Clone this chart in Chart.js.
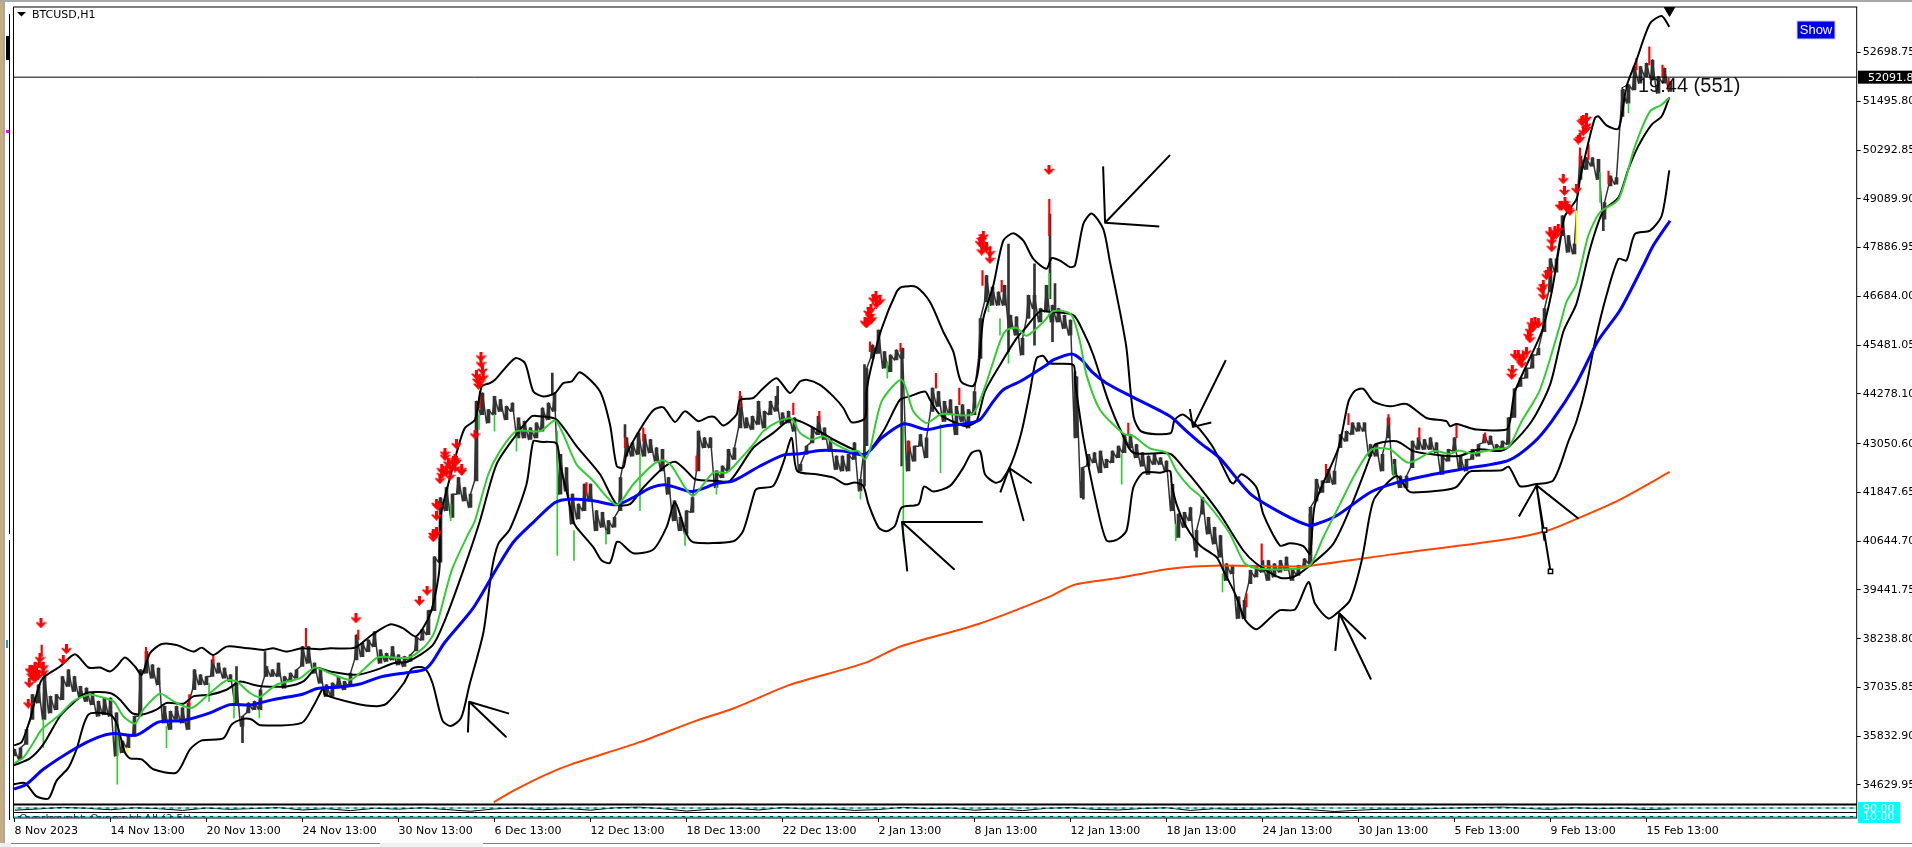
<!DOCTYPE html>
<html>
<head>
<meta charset="utf-8">
<title>BTCUSD,H1</title>
<script src="https://cdn.jsdelivr.net/npm/chart.js@4/dist/chart.umd.min.js"></script>
<style>
  html, body { margin: 0; padding: 0; background: #fff; overflow: hidden; }
  canvas { display: block; }
</style>
</head>
<body>
<canvas id="btcChart" width="1912" height="847"></canvas>
<script>
// x axis is counted in H1 bars from the first bar on the chart
const symbolName = 'BTCUSD,H1';
const timerText = '19:44 (551)';
const currentPrice = 52091.80;
const priceTicks = [52698.75, 51495.80, 50292.85, 49089.90, 47886.95, 46684.00, 45481.05, 44278.10,
  43050.60, 41847.65, 40644.70, 39441.75, 38238.80, 37035.85, 35832.90, 34629.95];
const dateLabels = ['8 Nov 2023', '14 Nov 13:00', '20 Nov 13:00', '24 Nov 13:00', '30 Nov 13:00', '6 Dec 13:00',
  '12 Dec 13:00', '18 Dec 13:00', '22 Dec 13:00', '2 Jan 13:00', '8 Jan 13:00', '12 Jan 13:00',
  '18 Jan 13:00', '24 Jan 13:00', '30 Jan 13:00', '5 Feb 13:00', '9 Feb 13:00', '15 Feb 13:00'];
const barsPerLabel = 48;

// candle ranges, one every candleStep bars
const candleStep = 3;
const candleHigh = [
  35508,35549,35999,36857,37103,37389,36816,36857,37307,37471,
  37307,37062,37021,36898,36694,36775,36775,36408,35712,35835,
  36326,37471,37920,37594,37512,36571,36448,36571,36530,36653,
  37471,37348,37307,37716,37634,37512,37348,37184,36326,36653,
  36694,36980,37552,37471,37634,37307,37389,37471,38043,38043,
  37634,37471,37103,37144,37307,37184,37389,38329,38125,38207,
  38411,37961,37879,38043,37839,37798,37839,38270,38470,38933,
  40258,41716,41968,41804,42213,41968,41804,44094,44298,43889,
  44216,44135,43971,44053,43685,43603,43440,43562,43930,44053,
  44298,42785,42458,41804,41559,42050,42050,41395,41354,41150,
  41232,42213,43194,43072,43317,43276,43153,42949,42908,42213,
  41641,41232,41395,41722,43358,43194,43194,42377,42499,42908,
  42949,44217,43685,43726,44094,43849,44094,44217,43808,43849,
  43685,42539,42989,43439,43725,43439,43153,42744,42744,42785,
  43071,42171,44900,45483,45851,45320,45238,45361,45402,43112,
  42989,43275,43193,44420,44338,44093,44134,43970,44011,43889,
  44338,46137,47200,46914,46792,46955,46219,46178,45647,46710,
  46710,46383,46955,46465,46383,46219,46097,44700,42458,42785,
  42826,42866,42662,42866,42989,43275,43275,43030,42826,42744,
  42785,42703,42621,42049,41313,41354,41476,40904,41722,41231,
  40986,40782,40087,40046,39269,39187,39923,40005,40168,40168,
  40087,40168,40250,39964,40046,40209,41477,42172,42131,42417,
  42376,43276,43357,43562,43562,43562,43030,43030,42785,43685,
  42662,42253,42253,43112,43194,43153,43194,43071,42744,42908,
  43194,42744,42662,42908,43030,43276,43235,43030,43112,43685,
  44400,44666,44911,45238,45402,46383,47610,47610,48673,48182,
  47978,50144,50104,50104,50063,48999,49654,49613,51780,51903,
  52352,52352,52434,52516,52107,52311,51984];
const candleLow = [
  35345,35263,35631,36244,36653,36244,36408,36489,36735,37062,
  36939,36816,36694,36612,36326,36367,36326,35345,35426,35549,
  35835,36326,37389,37266,37103,36162,35999,36244,36162,35999,
  36980,37103,37103,37307,37389,37266,37184,36653,36080,36408,
  36489,36489,37307,37307,37307,37021,37184,37266,37552,37634,
  37389,37144,36816,36816,37062,36980,37062,37716,37798,37920,
  38043,37634,37675,37716,37593,37552,37675,37940,38204,38337,
  38933,40126,41395,41232,41804,41640,41477,42131,43767,43562,
  43767,43848,43644,43848,43194,43194,43153,43194,43358,43644,
  43849,41804,41886,41068,41191,41395,41641,40905,40987,40823,
  40987,41395,42744,42744,42785,42744,42826,42622,42377,41804,
  41150,40905,40823,41354,42377,42949,42949,41968,42213,42377,
  42663,43440,43440,43399,43522,43440,43767,43849,43522,43562,
  43358,42376,42785,43071,43275,43153,42866,42417,42376,42376,
  42662,41885,43000,45156,45279,44911,44829,45115,45156,42376,
  42621,42989,42703,43848,43970,43602,43766,43275,43602,43439,
  43766,45156,46546,46465,46465,46465,45892,45729,45238,46137,
  46383,46056,46301,46056,46056,45892,45729,43200,41720,42498,
  42580,42335,42458,42580,42703,42826,42948,42703,42498,42294,
  42539,42539,42376,41394,40740,40986,41149,40413,41313,40822,
  40577,40250,39678,39841,38737,38737,39596,39760,39882,39678,
  39760,39882,39923,39678,39800,40005,40087,41640,41845,42090,
  42049,42949,43112,43276,43357,43357,42744,42744,42376,43194,
  42294,41967,41967,42458,42908,42908,42908,42826,42294,42621,
  42867,42417,42376,42662,42744,43071,43030,42867,42949,43030,
  43700,44461,44666,44911,45238,45811,46792,47282,48182,47773,
  47733,49572,49818,49899,49572,48591,49409,49450,51126,51453,
  51780,51944,52107,52025,51698,51944,51739];

// long thin wicks
const darkWickBars = [111,114,125.25,268.9,305.25,381.6,425,443.6,497,510,517.75,520.25,519,530.25,534.4,591,647.75,794.4];
const darkWickHigh = [37552,36244,37920,44789,43521,44462,45000,45400,47977,47487,48713,47000,46056,44829,42376,40904,41313,48591];
const darkWickLow = [36898,35672,37307,44257,43194,44012,42000,42500,45320,45483,46628,46301,45565,43193,41681,40250,40087,48305];
const redWickBars = [13.6,65.75,145.75,171.9,99.4,87.4,232.75,314.4,362.75,305.25,286,341,389.4,517.4,460.75,484,493.6,427.75,443,447,402.4,472.4,556.9,623.6,655.75,667,687,702.4,721,735.25,616,811,817.4,824,827,782.75,787,797];
const redWickHigh = [38084,38027,38493,38452,37814,36857,44339,43440,44339,43194,42090,42744,44053,49081,44788,47323,47078,45565,45524,43112,43848,44420,43561,40577,42540,43791,43766,43439,43521,43317,39351,52557,52843,52393,52066,50349,50431,49777];
const redWickLow = [37800,37716,38043,38207,37634,36571,43930,43113,43930,42949,41804,42377,43767,48182,44420,46955,46792,45320,45320,42866,43602,44011,43275,40168,42212,43521,43521,43153,43194,43112,39024,52270,52393,52107,51780,49899,50063,49450];
const greenWickBars = [51.4,14.4,76,97.25,109.75,122.4,271.4,279.75,240,232.25,251,312.75,335.25,351,218.1,295.75,492.75,497,517.4,487,436.4,444.4,463,553.6,580.6,423,604,689.4,792.75,807];
const greenWickHigh = [36162,36244,36080,37144,37062,36489,43358,40905,43767,43767,43276,42785,40987,42090,41559,40905,46137,45320,47250,46630,45074,43600,43520,42785,41067,41885,39841,42540,49736,51453];
const greenWickLow = [34650,35549,35549,36694,36285,36285,40291,40169,43358,43399,42867,41395,40537,41804,41150,40577,45729,45034,46628,46300,44666,40650,42335,42049,40658,41681,39391,42253,48999,51208];
const yellowWickBars = [56.4,781];
const yellowWickHigh = [35549,48795];
const yellowWickLow = [35426,47978];

// black outer and middle bands
const upperBars = [-0.25,3.6,7.75,13.6,22.75,30.25,37,42.75,47.75,51,55.25,60.25,63.6,67.75,73.6,81,89.5,93.6,99.4,106,114.4,124.4,129.4,136,143.6,152,157.75,170.25,178.6,187.75,194.4,200.8,208,212.4,213,217.75,222.75,225.25,230.25,233.6,237.75,240.25,250.25,255.25,259.4,264.4,270.25,274.4,278.6,282.75,292.75,297.75,301.1,304.4,306,312.75,319.4,324.4,330.25,335.25,342,347,350.25,354.4,361,362.75,369.4,373.6,381,387.75,392.75,396,402.75,409.4,414.4,418.6,425.25,426,428.6,433.6,441,443.6,451,457.75,464.4,469.4,473.25,479.4,482,484.4,489.4,494.4,499.4,504.4,509.4,516,518.6,522.75,527.75,530.25,534.4,538.6,544.4,547.75,552.75,556,559.6,563.7,578,580,584,588,592.75,599.4,607.75,609.4,613.6,621,624.4,632.75,637.75,644.4,647.75,650.25,662,667,670.25,674.4,679.4,687.75,696,706,716,717.75,721,731,746,747.75,750.25,763.6,768.6,772.75,775.25,781,782.75,786.9,790.25,792,796,802,806,811,817.75,823.6,827.4];
const upperBand = [35606,35688,36244,37225,37552,37855,37528,37528,37430,37552,37773,37552,37348,37879,38108,38084,37920,38018,37838,38043,38018,37961,38002,37920,38002,37978,38002,38018,38329,38591,38493,38297,38867,39924,41232,42213,43113,43440,43644,44462,44544,44625,45157,45034,44339,44216,44298,44544,44584,44813,44339,43521,42499,42458,42785,43399,43873,43947,43587,43849,43603,43709,43701,43497,43767,44135,44176,44380,44666,44298,44584,44625,44502,44216,43930,43578,43684,44339,44993,45892,46792,46914,46914,46546,45810,45320,44584,44477,44911,46137,46955,48059,48239,48059,47609,47364,47626,47568,47405,47446,48468,48730,48345,47528,46301,45402,43703,43345,43306,43637,43770,43637,43398,42949,42131,42066,42294,41967,41313,40536,40594,40520,40332,41558,42949,44093,44355,44404,44093,43971,44028,43684,43603,43480,43537,43398,43398,43603,44339,45811,46792,48019,48673,49081,49572,50472,51085,51126,50905,50823,51862,52516,53415,53603,53334];

const middleBars = [-0.25,7.75,14.4,22.75,29.4,36,47.75,52.75,58.6,63.6,71,76,84.4,89.4,97.75,106,112.75,119.4,124.4,136,144.4,151,157.75,171,181,189.4,196.75,209,215,224.4,232.75,241,251,258.6,262.75,271,281,292.75,301,307.75,314.4,324.4,330.25,336,340.25,351,357.75,369.4,379.4,387.75,392.75,401,409.4,419.4,425.25,434.4,442.75,447.75,455.25,457.75,462.75,472.75,476,481,485.25,492.75,501,506,512.75,517.75,529.4,534.4,539.4,547,553.6,559.4,577.75,584.4,592.75,602.75,614.4,621,632.75,639.4,647.75,659.4,669.4,678.6,680.25,691,699.4,709.4,722,731.9,742.75,747,758.6,767.75,774.4,781,787.75,794.4,802,806.9,811.9,818.6,823.6,827.4];
const middleBand = [35116,35287,35631,36326,36653,36898,36898,36735,36408,36367,36489,36653,36636,36816,36857,36980,37184,37103,37062,37062,37184,37512,37430,37348,37471,37634,37675,38072,38668,39924,41150,42540,43276,43726,43726,43644,42990,42295,41559,41559,41968,42458,42606,42377,42172,42131,42131,42949,43317,43644,43602,43398,43153,42907,42785,43357,44134,44216,44338,44134,43766,43520,43480,43602,44339,44993,45647,45933,46317,46301,46219,45810,45238,44093,43316,42826,42801,42458,41967,41313,40414,40087,39743,39760,40046,40577,41640,42826,43030,43112,42867,42785,42744,42908,42867,42965,43603,44502,45811,46506,47855,48795,49122,49817,50390,50921,51126,51592];

const lowerBars = [-0.25,5.25,11,17,21,27,31,37,47.75,51,55.25,57.75,63.6,69.4,81,87.75,93.6,104.4,108.6,114.4,118.6,122.75,143.6,149.4,154.4,155.25,169.4,181,186,194.7,198.8,204.9,209,214,218.2,223.3,227.4,234.5,238.6,241.9,247.75,256,259.4,262.75,271,272.75,276,279.4,281,289.4,293.6,297.75,301,302.75,309.4,319.4,326,330.25,336,339.4,359.4,364.4,370.25,372,379.4,384.4,388.6,391.3,401,409.4,415.25,420.25,424.4,427,432,436,440.25,443.6,452,454.75,459.4,467.75,474.4,478.6,482.75,485.25,490.25,493.6,498.6,503.6,507.75,511,514.4,517.4,529.4,530.25,534.4,541,546,551,556,559.4,564.4,572.75,577.75,578.6,581,586,592.75,601,604.4,610.25,615.25,620.8,627,632.75,640.25,647,650.25,657,662,667.75,673.6,677.75,680.25,691,696.9,699.4,714.4,721,726,728.6,743.6,747,750.25,752.75,760.25,769.4,777,781,786,790.25,796,802,806,810.25,817.75,823.6,827.4];
const lowerBand = [34650,34674,34347,34298,34731,35058,35508,36367,36367,36162,35426,35287,35263,35018,34936,35508,35729,35778,36121,36260,36244,36105,36162,36571,37021,36857,36653,36571,36637,37145,37503,37516,37145,36217,36085,36284,37079,38404,39924,40578,40946,42050,43113,43096,43055,42540,41886,41150,40987,40496,40169,40112,40618,40618,40349,40439,40987,41600,40823,40618,40643,40905,41886,41951,42009,42581,43194,42378,42294,42212,42049,42090,42008,41558,40986,40888,41027,41476,41558,41991,41869,42008,42458,42826,42866,42294,42090,42147,42580,43357,44338,45156,45213,45034,44993,44584,43194,41558,40659,40675,40904,41967,42335,42335,42376,42049,41558,40986,40536,40250,39923,39351,38713,38470,38713,38942,38958,39637,39105,38737,38901,39187,40168,41313,41722,42253,41886,41845,41902,41984,42294,42376,42392,42482,42212,42000,42049,42147,43112,43603,44502,45565,46710,47610,47569,48223,48305,48673,49793];

const greenMaBars = [-0.25,4.4,9.4,13.6,22.75,29.4,37,42,49.4,54.4,60.25,64.4,72.75,79.4,88.6,97.75,106,111,117.75,122.75,131,142.75,150.25,157.75,167.75,174.4,181.9,196.75,204.9,210,218.6,226.9,230.25,236.9,242.75,251,262.75,270.25,274.4,281,288.6,301,309.4,319.4,324.4,328.6,335.25,339.4,349.4,356,362.75,369.4,374.4,382.75,388.6,392.75,398.6,404.4,409.4,417.75,421.9,425.25,427.75,433.6,443.6,449.4,456,463.6,478.6,484.4,492.75,496,501,506,515.25,518.6,522.75,528.6,532.75,536,542.75,554.4,559.4,567.75,576,581,587.75,592.75,599.4,607.75,615.25,622.75,641,647.75,654.4,662.75,670.25,678.6,687.75,696.9,709.4,717.75,722,728.6,739.4,747,753.6,762.75,772.75,776,781,786.9,792.75,802,810.25,817.75,823.6,827.4];
const greenMa = [35165,35304,35672,35999,36367,36694,36857,36816,36694,36326,36146,36489,36882,36694,36530,36898,37209,37184,36898,36800,37103,37266,37528,37389,37225,37471,37781,37767,38032,38404,39924,40823,41150,42295,42867,43358,43358,43620,43276,42540,42172,41543,42050,42540,42638,42499,41968,41763,42335,42335,42663,43031,43358,43620,43669,43316,43153,43234,43071,42867,42866,42662,42907,44093,44625,43848,43562,43782,43766,44339,45565,45851,45908,45712,46097,46301,46334,46219,45565,44747,43889,43300,43234,42932,42826,42376,41967,41763,41395,40822,40087,39964,39964,40046,40741,41558,42294,42908,42908,42580,42866,42801,42883,42810,42908,42973,43603,44380,45974,46547,46996,48182,48754,49082,50390,51248,51412,51592];

const blueMaBars = [-0.25,6,14.4,31,41,49.4,61,71.9,84.4,97.75,107.75,117.75,129.4,144.4,151,162.75,172.75,182.75,197.75,204.9,209,215,229.4,241,249.4,259.4,270.25,277.75,289.4,301,309.4,317.75,326,338.6,351,359.4,372.75,384.4,392.75,402.75,414.4,425.25,433.6,444.4,456,464.4,477.75,482.75,489.4,494.4,502.75,516,519.4,528.6,533.6,538.6,546,559.4,577.75,586,592.75,602.75,617.75,634.4,647,651,661,677.75,689.4,709.4,726,747,759.4,768.6,781,792,802.75,814.4,819.4,827.75];
const blueMa = [34527,34650,35018,35549,35794,35900,35860,36179,36220,36408,36612,36604,36735,36874,37005,37045,37119,37291,37413,37476,37675,38138,39000,39964,40618,41109,41600,41681,41641,41543,41722,41951,42033,41870,42066,42131,42499,42769,42801,42883,42866,42785,43193,43537,43398,43480,43562,43643,44093,44379,44584,44993,45115,45262,45115,44829,44543,44191,43725,43357,43071,42687,41820,41313,41035,41068,41272,41845,42065,42294,42441,42638,43071,43603,44543,45606,46342,47446,47937,48550];

const orangeMaBars = [239.6,249.8,266,278,312.6,341,359.7,388,425,443,482,517,530,551,578,603.5,632.6,647,690,747,767.5,782,802,827.6];
const orangeMa = [34203,34495,34892,35131,35687,36217,36522,37105,37635,38046,38602,39265,39569,39728,39967,40046,40020,40033,40325,40696,40921,41212,41650,42352];

// red down arrows
const signalBars = [13.25,26,24.4,6.9,7.4,9.4,8.6,11,10.25,12.4,12.75,14.4,9.4,7.75,14.4,12,10.25,8.6,170.75,202.5,206.3,233.25,233.25,234,234.4,231.4,232,231,232.75,230.25,215.25,215.25,221,221,220.25,223.6,217.75,214.4,213.6,217.75,212.75,216.9,219.4,223.6,216,213.6,220.25,211.6,211,209.9,209.4,209.4,211,211,430.75,431,428.25,427.75,427.75,426,429.4,432.75,427,428.6,425.25,483.6,484.4,483.6,487.75,487.75,484.4,482.75,486,517.25,748.9,748.6,751.9,753.6,756,757.75,759.4,761.9,757.75,750.25,754.4,752.75,758.6,760.25,756.9,764.4,764.4,766.9,768.6,769.4,771.9,770.25,763.6,766,767.75,771,768.6,772.75,776,777.75,774.4,775,781,773.6,776.9,775.25,782.75,784.4,786,786,783.6,784.4,781.9,786];
const signalPrices = [38615,37977,37716,36637,37144,37348,37471,37430,37552,37634,37757,37430,37307,37471,37552,37348,37266,37348,38738,39172,39424,45198,45034,44871,44707,44625,44503,44748,44584,43276,42826,42744,43031,42622,42663,42418,42499,42377,42295,42254,42172,42581,42622,42377,42377,42418,42458,41518,41273,40807,40741,40823,40864,41559,46694,46505,46383,46219,46097,46015,46628,46587,46301,46137,46056,48100,47936,47814,47773,47609,48182,48018,47895,49801,44870,44748,45238,45034,45320,45647,45934,46015,45852,45238,45197,45115,46015,46056,45729,46955,46710,47283,47896,48182,48346,48305,46874,47201,48264,48223,48060,48918,48918,48795,49572,49286,49327,48918,48836,49000,50594,50758,50921,51085,51003,51044,50553,50840];

// hand drawn arrows on the chart, each one is a path through its tip
const drawnArrowBars = [
  [226.7,227.35,245.7,227.35,247.3],
  [446.4,443.7,469.8,443.7,484.1],
  [492.9,497.4,504.5,497.4,508.6],
  [544.3,545.3,577.5,545.3,572.4],
  [587.7,589.2,605.5,589.2,598.4],
  [660.4,662.4,678.1,662.4,675.7],
  [752.2,761,781.75,761,768,761,765]
];
const drawnArrowPrices = [
  [35926,36681,35820,36681,36390],
  [39901,41120,39954,41120,41120],
  [41848,42445,41160,42445,42074],
  [49891,48500,50156,48500,48407],
  [43902,43465,45095,43465,43571],
  [37940,38867,37250,38867,38231],
  [41252,42021,41212,42021,39901,42021,40656]
];
const handleBars = [768,765];
const handlePrices = [39901,40920];

// lower indicator window
const oscStep = 12;
const oscValues = [70,82,96,88,74,92,84,68,90,78,86,94,72,84,66,88,80,92,76,60,82,90,74,86,70,92,98,84,62,78,88,72,94,80,86,68,76,96,84,90,70,82,66,88,94,78,72,86,92,68,84,76,80,90,74,58,70,80,76,84,90,94,98,86,78,92,84,90,76,82];
const oscLevels = [90, 10];

const arrowIcon = document.createElement('canvas');
arrowIcon.width = 11;
arrowIcon.height = 10;
(function () {
  const g = arrowIcon.getContext('2d');
  g.fillStyle = '#ff0000';
  g.fillRect(4, 0, 3, 6);
  g.beginPath();
  g.moveTo(0, 4); g.lineTo(2, 3.5); g.lineTo(5.5, 6); g.lineTo(9, 3.5); g.lineTo(11, 4); g.lineTo(5.5, 10);
  g.closePath();
  g.fill();
})();

function lineSet(bars, values, color, width, order, tension = 0) {
  return {
    type: 'line', order, borderColor: color, borderWidth: width, pointRadius: 0, tension,
    borderJoinStyle: 'round', data: bars.map((b, i) => ({ x: b, y: values[i] }))
  };
}
function rangeSet(bars, highs, lows, color, thickness, order) {
  return {
    type: 'bar', order, grouped: false, backgroundColor: color, barThickness: thickness,
    data: bars.map((b, i) => ({ x: b, y: [lows[i], highs[i]] }))
  };
}

const candleBars = candleHigh.map((_, i) => i * candleStep);
// saw path from each candle's low up to its high, gives the hairy hourly trace
const traceBars = [];
const tracePrices = [];
candleBars.forEach((b, i) => {
  traceBars.push(b - 1, b);
  tracePrices.push(candleLow[i], candleHigh[i]);
});

const smooth = 0.25;
const datasets = [
  rangeSet(candleBars, candleHigh, candleLow, '#333333', 3, 31),
  lineSet(traceBars, tracePrices, '#333333', 1.5, 30),
  rangeSet(greenWickBars, greenWickHigh, greenWickLow, '#32cd32', 1, 28),
  rangeSet(darkWickBars, darkWickHigh, darkWickLow, '#333333', 2, 29),
  rangeSet(redWickBars, redWickHigh, redWickLow, '#ff0000', 1.5, 27),
  rangeSet(yellowWickBars, yellowWickHigh, yellowWickLow, '#ffff00', 1, 27),
  lineSet(orangeMaBars, orangeMa, '#ff4500', 2, 20, smooth),
  lineSet(upperBars, upperBand, '#000000', 2, 19, smooth),
  lineSet(middleBars, middleBand, '#000000', 2, 18, smooth),
  lineSet(lowerBars, lowerBand, '#000000', 2, 17, smooth),
  lineSet(blueMaBars, blueMa, '#0000ff', 3, 16, smooth),
  lineSet(greenMaBars, greenMa, '#32cd32', 2, 15, smooth),
  {
    type: 'line', order: 5, showLine: false, pointStyle: arrowIcon, pointRadius: 5,
    data: signalBars.map((b, i) => ({ x: b, y: signalPrices[i] }))
  },
  {
    type: 'line', order: 4, borderColor: '#000000', borderWidth: 1,
    pointRadius: 0, data: [{ x: -0.5, y: currentPrice }, { x: 921.1, y: currentPrice }]
  },
  {
    type: 'line', order: 3, showLine: false, pointStyle: 'rect', pointRadius: 3, pointBorderWidth: 1.5,
    pointBackgroundColor: '#ffffff', pointBorderColor: '#000000',
    data: handleBars.map((b, i) => ({ x: b, y: handlePrices[i] }))
  },
  {
    type: 'line', order: 3, showLine: false, pointStyle: 'triangle', pointRadius: 6, pointRotation: 180,
    pointBackgroundColor: '#000000', pointBorderColor: '#000000',
    data: [{ x: 827.5, y: 53740 }]
  },
  {
    type: 'line', order: 3, showLine: false, pointStyle: 'triangle', pointRadius: 3, pointRotation: 270,
    pointBackgroundColor: '#ffffff', pointBorderColor: '#000000',
    data: [{ x: 805, y: 51820 }]
  },
  {
    type: 'line', order: 2, yAxisID: 'osc', borderColor: '#000000', borderWidth: 1, pointRadius: 0,
    data: oscValues.map((v, i) => ({ x: i * oscStep, y: v }))
  }
];
drawnArrowBars.forEach((bars, i) => datasets.push(lineSet(bars, drawnArrowPrices[i], '#000000', 2, 6)));
oscLevels.forEach(level => {
  datasets.push({
    type: 'line', order: 1, yAxisID: 'osc', borderColor: '#00ffff', borderWidth: 1, pointRadius: 0, borderDash: [4, 4],
    data: [{ x: -0.5, y: level }, { x: 921.1, y: level }]
  });
  datasets.push({
    type: 'line', order: 1, yAxisID: 'osc', borderColor: '#000000', borderWidth: 1, pointRadius: 0,
    borderDash: [4, 4], borderDashOffset: 4,
    data: [{ x: -0.5, y: level }, { x: 921.1, y: level }]
  });
});

// window dressing round the chart area: frame, texts, price label
const terminalFrame = {
  id: 'terminalFrame',
  beforeDraw(chart) {
    const c = chart.ctx;
    c.save();
    c.fillStyle = '#ffffff';
    c.fillRect(0, 0, 1912, 847);
    c.fillStyle = '#c8ad7f';
    c.fillRect(0, 0, 3, 847);
    c.fillStyle = '#a8a8a8';
    c.fillRect(3, 0, 2, 847);
    c.fillRect(0, 0, 1912, 2);
    c.fillStyle = '#000000';
    c.fillRect(9, 14, 1, 520);
    c.fillRect(9, 540, 1, 280);
    c.fillRect(6, 36, 3, 24);
    c.fillStyle = '#ff00ff';
    c.fillRect(6, 130, 3, 3);
    c.fillStyle = '#3399cc';
    c.fillRect(6, 640, 2, 8);
    c.fillStyle = '#f0f0f0';
    c.fillRect(0, 843, 1912, 4);
    c.fillStyle = '#ffffff';
    c.fillRect(11, 844, 369, 3);
    c.fillRect(483, 844, 1429, 3);
    c.fillStyle = '#808080';
    c.fillRect(11, 843, 369, 1);
    c.fillRect(483, 843, 1429, 1);
    c.restore();
  },
  afterDraw(chart) {
    const c = chart.ctx;
    const a = chart.chartArea;
    const y = chart.scales.y;
    c.save();
    c.strokeStyle = '#000000';
    c.lineWidth = 1;
    c.strokeRect(a.left, a.top, a.right - a.left, a.bottom - a.top);
    c.lineWidth = 2;
    c.beginPath();
    c.moveTo(a.left, 804.5); c.lineTo(a.right, 804.5);
    c.stroke();
    c.lineWidth = 1;
    c.beginPath();
    c.moveTo(a.left, 812.5); c.lineTo(a.right, 812.5);
    c.stroke();

    // indicator caption is cut by the bottom of its window
    c.save();
    c.beginPath();
    c.rect(a.left, 806, 300, a.bottom - 806);
    c.clip();
    c.fillStyle = '#333366';
    c.font = '11px "DejaVu Sans"';
    c.textBaseline = 'alphabetic';
    c.fillText('Overbought_Oversold_All (2,5t)', 19, 822);
    c.restore();

    c.fillStyle = '#000000';
    c.beginPath();
    c.moveTo(17, 12); c.lineTo(26, 12); c.lineTo(21.5, 16.5);
    c.closePath();
    c.fill();
    c.font = '11px "DejaVu Sans"';
    c.textBaseline = 'middle';
    c.textAlign = 'left';
    c.fillText(symbolName, 32, 15);

    c.fillStyle = '#0000e6';
    c.fillRect(1797, 21, 38, 18);
    c.strokeStyle = '#d0d0e8';
    c.strokeRect(1797, 21, 38, 18);
    c.fillStyle = '#ffffff';
    c.font = '13px "Liberation Sans"';
    c.textAlign = 'center';
    c.fillText('Show', 1816, 30.5);

    c.fillStyle = '#111111';
    c.font = '20px "Liberation Sans"';
    c.textAlign = 'left';
    c.textBaseline = 'alphabetic';
    c.fillText(timerText, 1638, 91.5);

    const py = y.getPixelForValue(currentPrice);
    c.fillStyle = '#000000';
    c.fillRect(1858, py - 6.5, 54, 13);
    c.fillStyle = '#ffffff';
    c.font = '11px "DejaVu Sans"';
    c.textBaseline = 'middle';
    c.fillText(currentPrice.toFixed(2), 1868, py + 0.5);

    c.fillStyle = '#00ffff';
    c.fillRect(1858, 802, 42, 21);
    c.fillStyle = '#ffffff';
    c.fillText(oscLevels[0].toFixed(2), 1863, 809);
    c.fillText(oscLevels[1].toFixed(2), 1863, 817);
    c.restore();
  }
};

// labels may not push the chart area in, the frame is fixed
function noPadding(scale) {
  scale.paddingTop = 0;
  scale.paddingBottom = 0;
  scale.paddingLeft = 0;
  scale.paddingRight = 0;
}

new Chart(document.getElementById('btcChart').getContext('2d'), {
  type: 'line',
  data: { datasets },
  plugins: [terminalFrame],
  options: {
    responsive: false,
    devicePixelRatio: 1,
    animation: false,
    events: [],
    layout: { padding: { left: 13.5, top: 4.3, right: 0, bottom: 0 } },
    plugins: { legend: { display: false }, tooltip: { enabled: false } },
    scales: {
      x: {
        type: 'linear',
        min: -0.5,
        max: 921.1,
        offset: false,
        grid: { display: true, offset: false, drawOnChartArea: false, drawTicks: true, tickLength: 4, color: '#000000' },
        border: { display: false },
        afterBuildTicks(scale) { scale.ticks = dateLabels.map((_, i) => ({ value: i * barsPerLabel })); },
        afterFit(scale) { scale.height = 29; noPadding(scale); },
        ticks: {
          autoSkip: false,
          maxRotation: 0,
          align: 'start',
          padding: 3,
          color: '#000000',
          font: { family: 'DejaVu Sans', size: 11 },
          callback(value) { return dateLabels[Math.round(value / barsPerLabel)]; }
        }
      },
      y: {
        position: 'right',
        min: 33815,
        max: 53823,
        grid: { display: true, drawOnChartArea: false, drawTicks: true, tickLength: 4, color: '#000000' },
        border: { display: false },
        afterBuildTicks(scale) { scale.ticks = priceTicks.map(v => ({ value: v })); },
        afterFit(scale) { scale.width = 55.3; noPadding(scale); },
        ticks: {
          autoSkip: false,
          padding: 2,
          color: '#000000',
          font: { family: 'DejaVu Sans', size: 11 },
          callback(value) { return value.toFixed(2); }
        }
      },
      osc: { display: false, min: -2, max: 7480 }
    }
  }
});
</script>
</body>
</html>
